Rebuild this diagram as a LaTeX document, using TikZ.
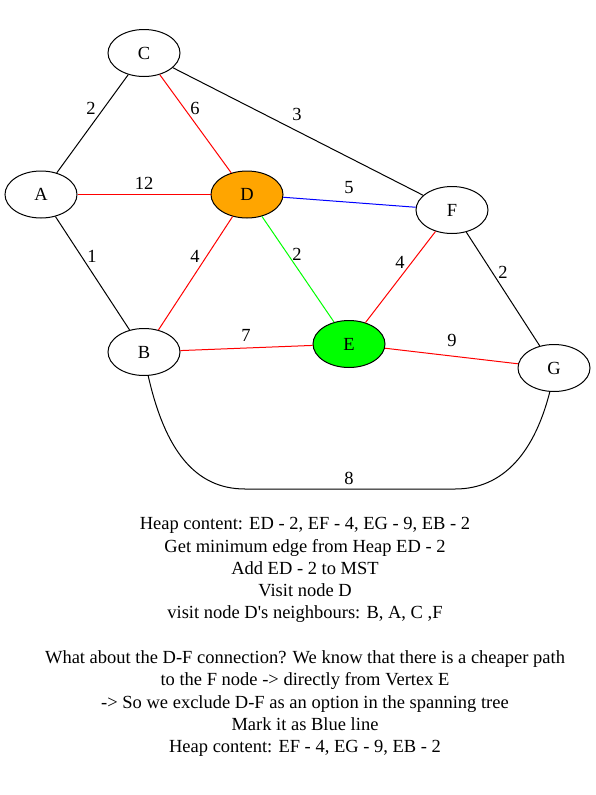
\documentclass[tikz,border=0pt]{standalone}
\usepackage{fontspec}
\setmainfont{Liberation Serif}
\usetikzlibrary{shapes.geometric,positioning,calc}
\definecolor{mstred}{RGB}{255,0,0}
\definecolor{dorange}{RGB}{255,165,0}
\definecolor{egreen}{RGB}{0,255,0}

\begin{document}
\begin{tikzpicture}[
    x=1pt, y=-1pt,
    vertex/.style={ellipse, draw=black, line width=1pt, minimum width=72pt, minimum height=47pt, inner sep=0pt, font=\fontsize{18.5}{20}\selectfont},
    weight/.style={font=\fontsize{18.5}{20}\selectfont, inner sep=1pt},
    edge/.style={line width=1pt},
]
\useasboundingbox (0,0) rectangle (596,795);

% Vertices
\node[vertex] (C) at (144,53) {C};
\node[vertex] (A) at (41,194.5) {A};
\node[vertex, fill=dorange] (D) at (247,194.5) {D};
\node[vertex] (F) at (452,210) {F};
\node[vertex] (B) at (144,352) {B};
\node[vertex, fill=egreen] (E) at (349,344) {E};
\node[vertex] (G) at (554,368) {G};

% Edges
\draw[edge, black] (A) -- (C);
\draw[edge, mstred] (C) -- (D);
\draw[edge, black] (C) -- (F);
\draw[edge, mstred] (A) -- (D);
\draw[edge, blue] (D) -- (F);
\draw[edge, black] (A) -- (B);
\draw[edge, mstred] (B) -- (D);
\draw[edge, egreen] (D) -- (E);
\draw[edge, mstred] (E) -- (F);
\draw[edge, black] (F) -- (G);
\draw[edge, mstred] (B) -- (E);
\draw[edge, mstred] (E) -- (G);
\draw[edge, black] (B.-80) .. controls (165,450) and (195,489) .. (245,489)
    -- (455,489) .. controls (505,489) and (535,450) .. (G.-100);

% Weights
\node[weight] (wAC) at (91,108) {2};
\node[weight] (wCD) at (195,108) {6};
\node[weight] (wCF) at (297,114) {3};
\node[weight] (wAD) at (144,183) {12};
\node[weight] (wDF) at (349,188) {5};
\node[weight] (wAB) at (92,256) {1};
\node[weight] (wBD) at (195,256) {4};
\node[weight] (wDE) at (297,254) {2};
\node[weight] (wEF) at (400,262) {4};
\node[weight] (wFG) at (503,272) {2};
\node[weight] (wBE) at (246,335) {7};
\node[weight] (wEG) at (452,340) {9};
\node[weight] (wBG) at (349,478) {8};

% Explanation
\node[font=\fontsize{18.5}{22.3}\selectfont, align=center, anchor=north] (notes) at (305,514) {%
Heap content: ED - 2, EF - 4, EG - 9, EB - 2\\
Get minimum edge from Heap ED - 2\\
Add ED - 2 to MST\\
Visit node D\\
visit node D\textquotesingle s neighbours: B, A, C ,F\\[22.3pt]
What about the D-F connection? We know that there is a cheaper path\\
to the F node -> directly from Vertex E\\
-> So we exclude D-F as an option in the spanning tree\\
Mark it as Blue line\\
Heap content: EF - 4, EG - 9, EB - 2};

\end{tikzpicture}
\end{document}
